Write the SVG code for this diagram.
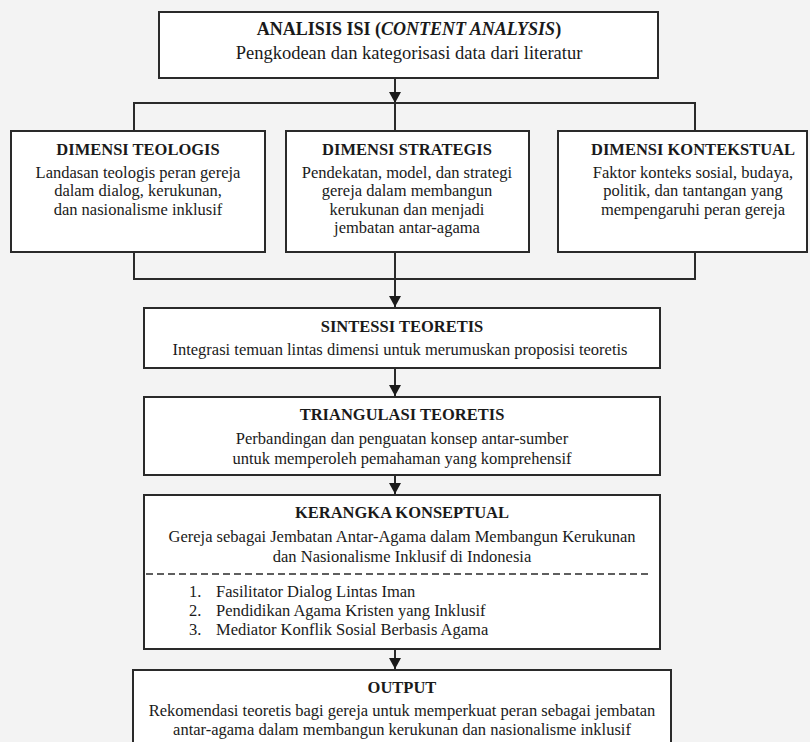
<svg xmlns="http://www.w3.org/2000/svg" width="810" height="742" viewBox="0 0 810 742">
<defs>
<path id="arrowhead" d="M-6,-11 L6,-11 L0,0 Z" fill="#1a1a1a"/>
</defs>
<style>
.bg{fill:#f3f3f3}
.box{fill:#ffffff;stroke:#2a2a2a;stroke-width:2}
.ln{fill:none;stroke:#2a2a2a;stroke-width:2}
.t{font-family:"Liberation Serif","Times New Roman",serif;font-size:16.5px;fill:#1a1a1a;text-anchor:middle}
.b{font-weight:bold}
.big{font-size:18px}
.big2{font-size:18.5px}
.l{text-anchor:start}
.dash{stroke:#2a2a2a;stroke-width:1.5;stroke-dasharray:7,4;fill:none}
</style>
<rect class="bg" x="0" y="0" width="810" height="742"/>
<g id="connectors">
<line class="ln" x1="395" y1="78" x2="395" y2="131"/>
<use href="#arrowhead" x="395" y="103"/>
<polyline class="ln" points="134,131 134,103 695,103 695,131"/>
<polyline class="ln" points="134,252 134,279 695,279 695,252"/>
<line class="ln" x1="395" y1="252" x2="395" y2="308"/>
<use href="#arrowhead" x="395" y="307"/>
<line class="ln" x1="395" y1="368" x2="395" y2="397"/>
<use href="#arrowhead" x="395" y="396"/>
<line class="ln" x1="395" y1="475" x2="395" y2="495"/>
<use href="#arrowhead" x="395" y="494"/>
<line class="ln" x1="395" y1="649" x2="395" y2="670"/>
<use href="#arrowhead" x="395" y="669"/>
</g>
<g id="analisis">
<rect class="box" x="159" y="12" width="499" height="66"/>
<text class="t b big" x="409" y="35">ANALISIS ISI (<tspan font-style="italic">CONTENT ANALYSIS</tspan>)</text>
<text class="t big2" x="409" y="59">Pengkodean dan kategorisasi data dari literatur</text>
</g>
<g id="teologis">
<rect class="box" x="11" y="131" width="254" height="121"/>
<text class="t b" x="138" y="155">DIMENSI TEOLOGIS</text>
<text class="t" x="138" y="178">Landasan teologis peran gereja</text>
<text class="t" x="138" y="196.4">dalam dialog, kerukunan,</text>
<text class="t" x="138" y="214.8">dan nasionalisme inklusif</text>
</g>
<g id="strategis">
<rect class="box" x="286" y="131" width="243" height="121"/>
<text class="t b" x="407" y="155">DIMENSI STRATEGIS</text>
<text class="t" x="407" y="178">Pendekatan, model, dan strategi</text>
<text class="t" x="407" y="196.4">gereja dalam membangun</text>
<text class="t" x="407" y="214.8">kerukunan dan menjadi</text>
<text class="t" x="407" y="233.2">jembatan antar-agama</text>
</g>
<g id="kontekstual">
<rect class="box" x="558" y="131" width="249" height="121"/>
<text class="t b" x="693" y="155">DIMENSI KONTEKSTUAL</text>
<text class="t" x="693" y="178">Faktor konteks sosial, budaya,</text>
<text class="t" x="693" y="196.4">politik, dan tantangan yang</text>
<text class="t" x="693" y="214.8">mempengaruhi peran gereja</text>
</g>
<g id="sintesis">
<rect class="box" x="144" y="308" width="516" height="60"/>
<text class="t b" x="402" y="332">SINTESSI TEORETIS</text>
<text class="t" x="400" y="355">Integrasi temuan lintas dimensi untuk merumuskan proposisi teoretis</text>
</g>
<g id="triangulasi">
<rect class="box" x="144" y="397" width="516" height="78"/>
<text class="t b" x="402" y="420">TRIANGULASI TEORETIS</text>
<text class="t" x="402" y="444">Perbandingan dan penguatan konsep antar-sumber</text>
<text class="t" x="402" y="464">untuk memperoleh pemahaman yang komprehensif</text>
</g>
<g id="kerangka">
<rect class="box" x="144" y="495" width="516" height="154"/>
<text class="t b" x="402" y="518">KERANGKA KONSEPTUAL</text>
<text class="t" x="402" y="542">Gereja sebagai Jembatan Antar-Agama dalam Membangun Kerukunan</text>
<text class="t" x="402" y="562">dan Nasionalisme Inklusif di Indonesia</text>
<line class="dash" x1="146" y1="574" x2="651" y2="574"/>
<text class="t l" x="189" y="597">1.</text>
<text class="t l" x="216" y="597">Fasilitator Dialog Lintas Iman</text>
<text class="t l" x="189" y="616">2.</text>
<text class="t l" x="216" y="616">Pendidikan Agama Kristen yang Inklusif</text>
<text class="t l" x="189" y="635">3.</text>
<text class="t l" x="216" y="635">Mediator Konflik Sosial Berbasis Agama</text>
</g>
<g id="output">
<rect class="box" x="133" y="670" width="538" height="90"/>
<text class="t b" x="402" y="693">OUTPUT</text>
<text class="t" x="402" y="716">Rekomendasi teoretis bagi gereja untuk memperkuat peran sebagai jembatan</text>
<text class="t" x="402" y="735">antar-agama dalam membangun kerukunan dan nasionalisme inklusif</text>
</g>
</svg>
